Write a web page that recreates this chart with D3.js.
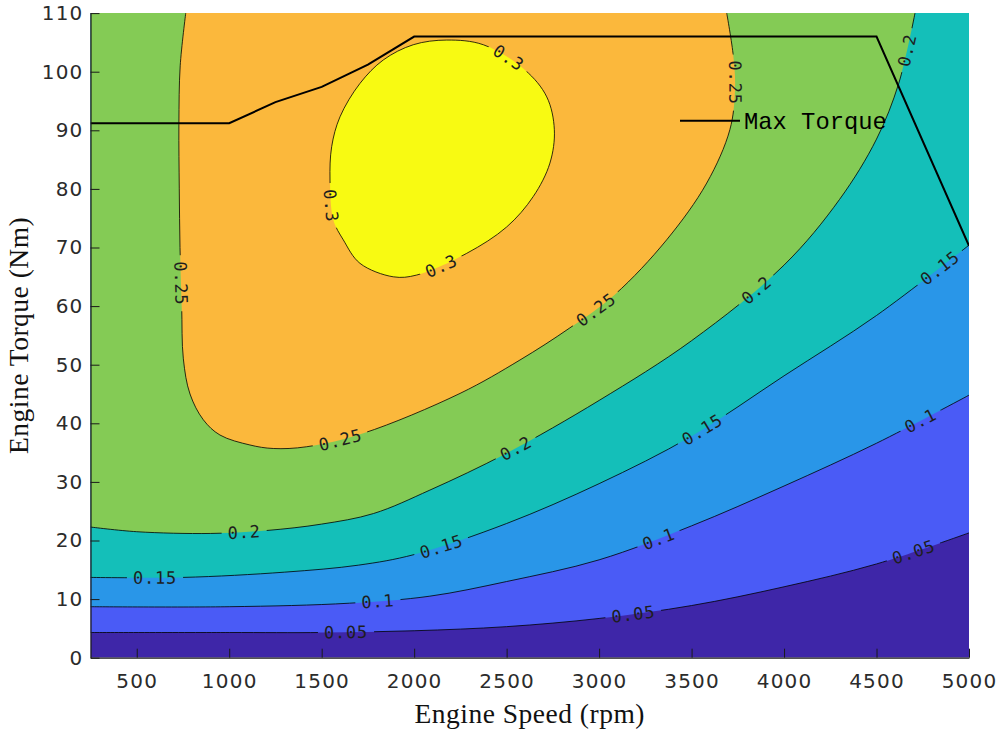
<!DOCTYPE html>
<html><head><meta charset="utf-8">
<script src="https://cdn.jsdelivr.net/npm/d3@7/dist/d3.min.js"></script>
<style>body{margin:0;background:#fff}</style>
</head><body>
<svg id="chart" width="1004" height="733"></svg>
<script>
// ---- data ----
const speedTicks = [500,1000,1500,2000,2500,3000,3500,4000,4500,5000];
const torqueTicks = [0,10,20,30,40,50,60,70,80,90,100,110];
const levels = ["0.05","0.1","0.15","0.2","0.25","0.3"];
const bandColors = ["#3e26a8","#4a5bf6","#2996e8","#14bfb9","#84cb55","#fbb83c","#f8fa12"];

// contour lines as [engine speed (rpm), torque (Nm)]
const c005 = [[250,4.3],[1000,4.3],[1500,4.3],[2000,4.6],[2500,5.3],[3000,6.7],[3500,8.9],[4000,12.1],[4500,16.0],[5000,21.3]];
const c010 = [[250,8.7],[1000,8.7],[1650,9.3],[2085,10.5],[2500,13.0],[3000,16.7],[3500,22.5],[4000,29.3],[4500,36.6],[5000,44.8]];
const c015 = [[250,13.7],[750,13.7],[1300,14.6],[1700,15.8],[2000,17.6],[2500,22.9],[3000,29.7],[3500,37.8],[4000,48.1],[4500,58.4],[5000,70.4]];
const c020 = [[250,22.3],[500,21.5],[900,21.2],[1200,21.7],[1500,22.8],[1780,24.6],[2085,28.6],[2500,34.9],[3000,43.9],[3500,54.1],[4000,67.0],[4300,78.2],[4500,88.5],[4620,98.0],[4708,110]];
const c025 = [[765,110],[735,101],[728,91],[730,80],[734,70],[743,60],[752,51],[788,45],[860,40.6],[950,38],[1112,36.3],[1238,35.7],[1419,36],[1725,38.3],[2248,45.1],[2572,50.8],[2838,56.2],[3086,62],[3365,71.3],[3582,81],[3707,90.1],[3735,97],[3726,102.6],[3690,110]];
const c030 = [[2176,105.4],[2374,104.6],[2599,100.3],[2717,95.7],[2758,90.1],[2734,84.4],[2644,78.7],[2500,73.5],[2284,69.0],[2014,65.3],[1887,65.0],[1707,67.3],[1617,71.3],[1563,74.7],[1545,81.5],[1554,87.2],[1599,92.3],[1707,98.0],[1833,102.0],[1995,104.6]];

const maxTorqueSpeed = [250,1000,1250,1500,1750,2000,4500,5000];
const maxTorqueNm = [91.2,91.2,94.8,97.4,101.2,106,106,70.3];
const legendLabel = "Max Torque";

// contour label anchors: [level index, rpm, Nm]
const labelAt = [
  [0,1631,4.5],[0,3183,7.6],[0,4697,18.4],
  [1,1804,9.8],[1,3324,20.1],[1,4734,40.6],
  [2,599,13.9],[2,2145,19.1],[2,3561,38.7],[2,4843,66.5],
  [3,1080,21.6],[3,2556,35.4],[3,3849,62.8],[3,4659,103.7],
  [4,742,63.9],[4,1599,37.5],[4,2972,59.9],[4,3735,98.1],
  [5,2512,102.5],[5,1561,77.2],[5,2150,66.5]
];

// ---- drawing ----
const svg = d3.select("#chart");
const x = d3.scaleLinear().domain([250,5000]).range([90.5,969]);
const y = d3.scaleLinear().domain([0,110]).range([657.7,13.1]);
const X0=x(250), X1=x(5000), Ytop=y(110), Ybot=y(0);

const defs = svg.append("defs");
defs.append("clipPath").attr("id","plotclip").append("rect")
  .attr("x",X0).attr("y",Ytop).attr("width",X1-X0).attr("height",Ybot-Ytop);

const open = d3.line().x(d=>x(d[0])).y(d=>y(d[1])).curve(d3.curveCatmullRom.alpha(0.5));
const closed = d3.line().x(d=>x(d[0])).y(d=>y(d[1])).curve(d3.curveCatmullRomClosed.alpha(0.5));

const contourLines = [c005,c010,c015,c020,c025,c030];
const pathStrings = contourLines.map((c,i)=> i===5 ? closed(c) : open(c));

const plot = svg.append("g").attr("clip-path","url(#plotclip)");
plot.append("rect").attr("x",X0).attr("y",Ytop).attr("width",X1-X0).attr("height",Ybot-Ytop).attr("fill",bandColors[0]);
const TR = `L${X1},${Ytop}L${X0},${Ytop}Z`;
plot.append("path").attr("d",pathStrings[0]+TR).attr("fill",bandColors[1]);
plot.append("path").attr("d",pathStrings[1]+TR).attr("fill",bandColors[2]);
plot.append("path").attr("d",pathStrings[2]+TR).attr("fill",bandColors[3]);
plot.append("path").attr("d",pathStrings[3]+`L${X0},${Ytop}Z`).attr("fill",bandColors[4]);
plot.append("path").attr("d",pathStrings[4]+"Z").attr("fill",bandColors[5]);
plot.append("path").attr("d",pathStrings[5]).attr("fill",bandColors[6]);

// mask for label gaps
const mask = defs.append("mask").attr("id","gapmask").attr("maskUnits","userSpaceOnUse")
  .attr("x",0).attr("y",0).attr("width",1004).attr("height",733);
mask.append("rect").attr("x",0).attr("y",0).attr("width",1004).attr("height",733).attr("fill","#fff");

const lineG = plot.append("g").attr("mask","url(#gapmask)");
const linePaths = pathStrings.map(d => lineG.append("path").attr("d",d)
  .attr("fill","none").attr("stroke","#000").attr("stroke-width",0.8).node());

const labelG = plot.append("g");
labelAt.forEach(([li,r,t])=>{
  const p = linePaths[li], L = p.getTotalLength();
  const tx=x(r), ty=y(t);
  let best=0, bd=Infinity;
  for(let s=0;s<=L;s+=0.5){const q=p.getPointAtLength(s);const dd=(q.x-tx)**2+(q.y-ty)**2;if(dd<bd){bd=dd;best=s;}}
  const pt=p.getPointAtLength(best);
  const a=p.getPointAtLength(Math.max(0,best-4)), b=p.getPointAtLength(Math.min(L,best+4));
  let ang=Math.atan2(b.y-a.y,b.x-a.x)*180/Math.PI;
  if(ang>90) ang-=180; if(ang<=-90) ang+=180;
  const txt = labelG.append("text").text(levels[li])
    .attr("transform",`translate(${pt.x},${pt.y}) rotate(${ang})`)
    .attr("text-anchor","middle").attr("dy","0.35em")
    .attr("font-family","'DejaVu Sans Mono', monospace").attr("font-size",17)
    .attr("letter-spacing",0.8).attr("fill","#1e1e1e");
  const w = txt.node().getComputedTextLength()+12;
  mask.append("rect").attr("x",-w/2).attr("y",-8).attr("width",w).attr("height",16)
    .attr("fill","#000").attr("transform",`translate(${pt.x},${pt.y}) rotate(${ang})`);
});

// max torque line
const mt = maxTorqueSpeed.map((s,i)=>[s,maxTorqueNm[i]]);
plot.append("path").attr("d",d3.line().x(d=>x(d[0])).y(d=>y(d[1]))(mt))
  .attr("fill","none").attr("stroke","#000").attr("stroke-width",2);

// legend
svg.append("line").attr("x1",680).attr("x2",740).attr("y1",120.7).attr("y2",120.7)
  .attr("stroke","#000").attr("stroke-width",2);
svg.append("text").attr("x",744).attr("y",129.3).text(legendLabel)
  .attr("font-family","'Liberation Mono', 'Courier New', monospace").attr("font-size",23.8).attr("fill","#000");

// axes
const xAxis = d3.axisBottom(x).tickValues(speedTicks).tickFormat(d3.format("d")).tickSizeInner(-9).tickSizeOuter(0).tickPadding(16);
const yAxis = d3.axisLeft(y).tickValues(torqueTicks).tickFormat(d3.format("d")).tickSizeInner(-9).tickSizeOuter(0).tickPadding(7);
const gx = svg.append("g").attr("transform",`translate(0,${Ybot})`).call(xAxis);
const gy = svg.append("g").attr("transform",`translate(${X0},0)`).call(yAxis);
[gx,gy].forEach(g=>{
  g.select(".domain").attr("stroke","#1a1a1a").attr("stroke-width",1.2);
  g.selectAll(".tick line").attr("stroke","#1a1a1a").attr("stroke-width",1);
  g.selectAll(".tick text").attr("font-family","'DejaVu Sans', sans-serif").attr("font-size",20)
    .attr("letter-spacing",1.2).attr("fill","#2b2b2b");
});

// axis titles
svg.append("text").attr("x",(X0+X1)/2).attr("y",722.5).attr("text-anchor","middle")
  .attr("font-family","'Liberation Serif', serif").attr("font-size",27.5).attr("letter-spacing",0.5).attr("fill","#111")
  .text("Engine Speed (rpm)");
svg.append("text").attr("transform",`translate(28,${(Ytop+Ybot)/2}) rotate(-90)`).attr("text-anchor","middle")
  .attr("font-family","'Liberation Serif', serif").attr("font-size",27.5).attr("letter-spacing",0.5).attr("fill","#111")
  .text("Engine Torque (Nm)");
</script>
</body></html>
